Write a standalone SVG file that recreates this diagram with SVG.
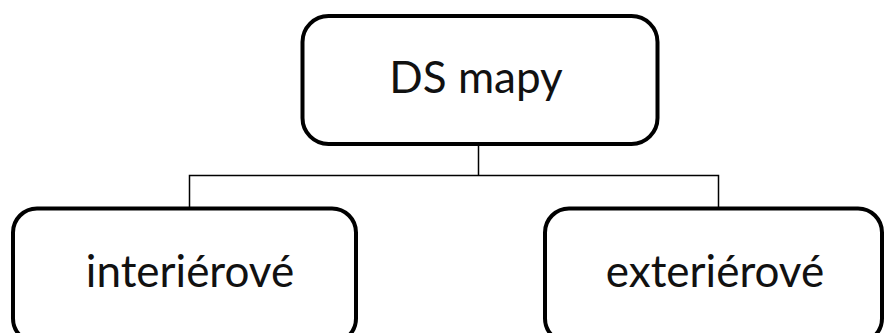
<svg xmlns="http://www.w3.org/2000/svg" width="885" height="333" viewBox="0 0 885 333">
  <style>
    .box { fill: #ffffff; stroke: #000000; stroke-width: 4; }
    .label { font-family: Lato, "Open Sans", sans-serif; font-size: 44px; fill: #111111; text-anchor: middle; }
    .conn { fill: none; stroke: #000000; stroke-width: 1.5; }
  </style>
  <rect width="885" height="333" fill="#ffffff"/>
  <g id="connectors">
    <path class="conn" d="M478.5 145 V175.5 M189.5 208 V175.5 H718.5 V208"/>
  </g>
  <g id="node-root">
    <rect class="box" x="302.5" y="16" width="355" height="128" rx="26" ry="26"/>
    <text class="label" x="476" y="93">DS mapy</text>
  </g>
  <g id="node-interior">
    <rect class="box" x="13" y="208.5" width="343" height="134" rx="24" ry="24"/>
    <text class="label" x="190" y="287">interiérové</text>
  </g>
  <g id="node-exterior">
    <rect class="box" x="545" y="208.5" width="337" height="134" rx="24" ry="24"/>
    <text class="label" x="715" y="287">exteriérové</text>
  </g>
</svg>
